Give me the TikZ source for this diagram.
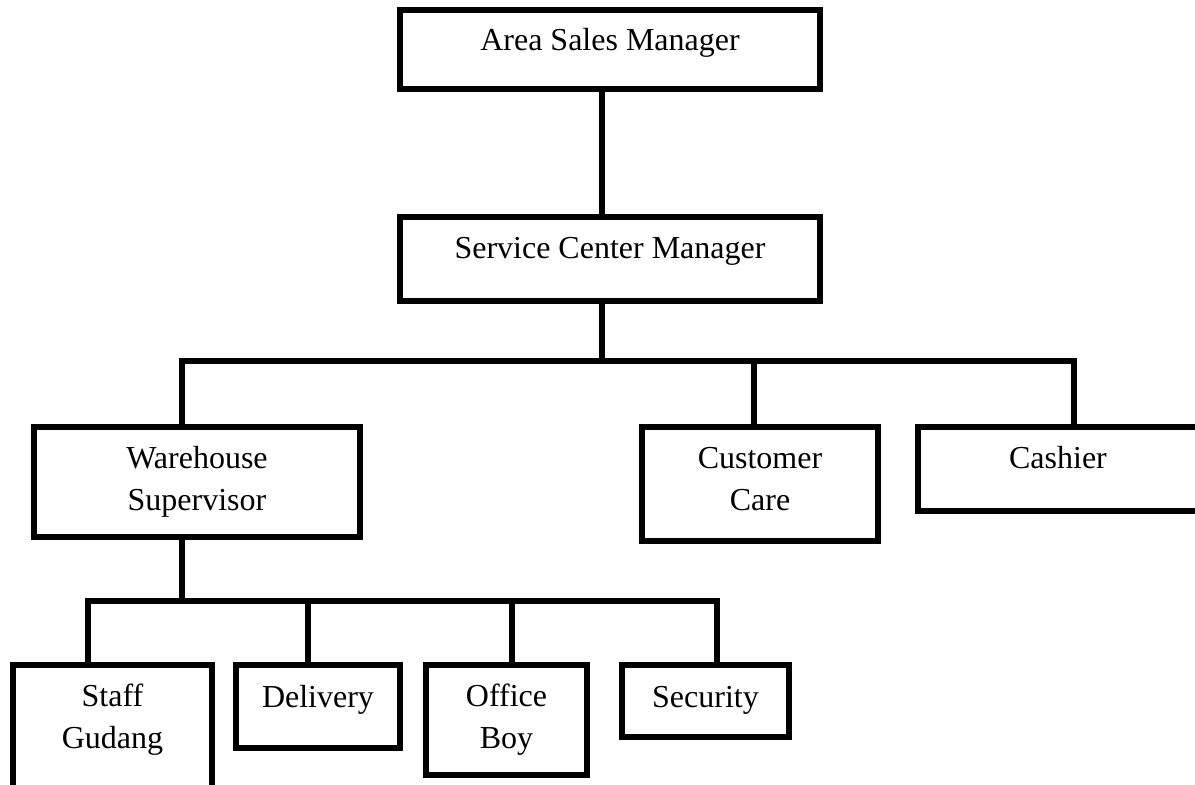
\documentclass[tikz,border=0pt]{standalone}
\usepackage{fontspec}
\setmainfont{Liberation Serif}
\begin{document}
\begin{tikzpicture}[x=1pt,y=-1pt,
  unit/.style={draw=black, line width=5.5pt, rectangle, inner sep=0pt},
  title/.style={anchor=base, align=center, inner sep=0pt,
                font=\fontsize{32}{42}\selectfont},
  link/.style={draw=black, line width=5.2pt, line join=miter}]
\useasboundingbox (0,0) rectangle (1195,785);
\fill[white] (0,0) rectangle (1195,785);

% --- boxes (centre, width, height) ---
\node[unit, minimum width=420pt, minimum height=79pt]  (asm)   at (610,49.5)  {};
\node[unit, minimum width=420pt, minimum height=84pt]  (scm)   at (610,259)   {};
\node[unit, minimum width=326pt, minimum height=110pt] (ws)    at (197,482)   {};
\node[unit, minimum width=236pt, minimum height=114pt] (cc)    at (760,484)   {};
\node[unit, minimum width=280pt, minimum height=84pt]  (cash)  at (1058,469)  {};
\node[unit, minimum width=199pt, minimum height=125pt] (staff) at (112.5,727.5) {};
\node[unit, minimum width=164pt, minimum height=83pt]  (deliv) at (318,706.5) {};
\node[unit, minimum width=161pt, minimum height=110pt] (ob)    at (506.5,720) {};
\node[unit, minimum width=167pt, minimum height=72pt]  (sec)   at (705.5,701) {};

% --- labels (anchored on the baseline of their last line) ---
\node[title] (asm-t)   at (610,50)   {Area Sales Manager};
\node[title] (scm-t)   at (610,258)  {Service Center Manager};
\node[title] (ws-t)    at (197,510)  {Warehouse\\Supervisor};
\node[title] (cc-t)    at (760,510)  {Customer\\Care};
\node[title] (cash-t)  at (1058,468) {Cashier};
\node[title] (staff-t) at (112.5,748) {Staff\\Gudang};
\node[title] (deliv-t) at (318,707)  {Delivery};
\node[title] (ob-t)    at (506.5,748) {Office\\Boy};
\node[title] (sec-t)   at (705.5,707) {Security};

% --- junction points of the connector lines ---
\coordinate (top)   at (602,361);
\coordinate (busL)  at (182,361);
\coordinate (busR)  at (1074,361);
\coordinate (ccj)   at (754,361);
\coordinate (low)   at (182,601);
\coordinate (lowL)  at (88,601);
\coordinate (lowD)  at (308,601);
\coordinate (lowO)  at (512,601);
\coordinate (lowR)  at (717,601);

% --- connectors ---
\draw[link] (asm.south -| top) -- (scm.north -| top);
\draw[link] (scm.south -| top) -- (top);
\draw[link] (ws.north -| busL) -- (busL) -- (busR) -- (cash.north -| busR);
\draw[link] (ccj) -- (cc.north -| ccj);
\draw[link] (ws.south -| low) -- (low);
\draw[link] (staff.north -| lowL) -- (lowL) -- (lowR) -- (sec.north -| lowR);
\draw[link] (lowD) -- (deliv.north -| lowD);
\draw[link] (lowO) -- (ob.north -| lowO);
\end{tikzpicture}
\end{document}
